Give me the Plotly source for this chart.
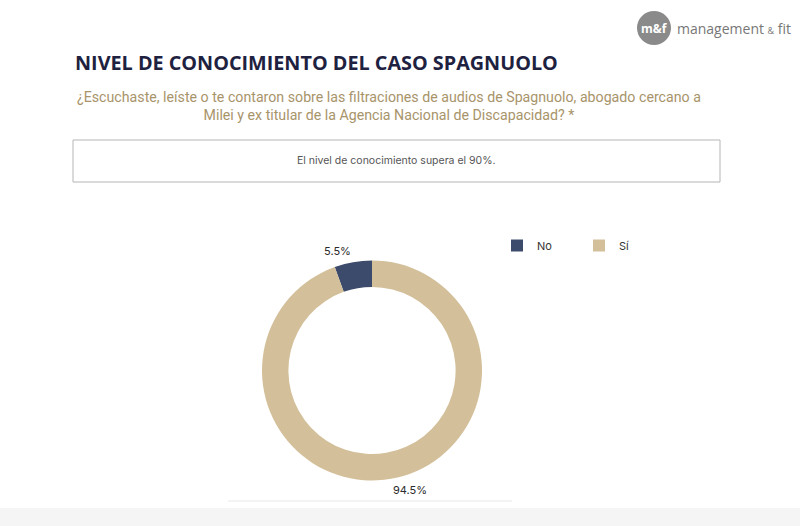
import math
import plotly.graph_objects as go

labels = ["No", "Sí"]
values = [5.5, 94.5]
colors = ["#3c4a6b", "#d3bf99"]

title = "NIVEL DE CONOCIMIENTO DEL CASO SPAGNUOLO"
subtitle = ("¿Escuchaste, leíste o te contaron sobre las filtraciones de audios de Spagnuolo, abogado cercano a<br>"
            "Milei y ex titular de la Agencia Nacional de Discapacidad? *")
note = "El nivel de conocimiento supera el 90%."

W, H = 800, 526
cx, cy, R = 372, 370.5, 110
total = sum(values)

fig = go.Figure(go.Pie(
    labels=labels, values=values, marker=dict(colors=colors, line=dict(width=0)),
    hole=0.76, sort=False, direction="clockwise", rotation=-values[0] / total * 360,
    textinfo="none", hoverinfo="label+percent",
    domain=dict(x=[(cx - R) / W, (cx + R) / W], y=[(H - cy - R) / H, (H - cy + R) / H]),
))

annotations = []
shapes = []

# outside value labels computed from data (slices run anticlockwise from 12 o'clock)
cum = 0
for v in values:
    mid = (cum + v / 2) / total * 2 * math.pi
    cum += v
    px = cx - math.sin(mid) * (R + 2)
    py = cy - math.cos(mid) * (R + 2)
    annotations.append(dict(
        x=px / W, y=1 - py / H, xref="paper", yref="paper", showarrow=False,
        text=f"{v:.1f}%", font=dict(family="Inter", size=11, color="#2a2a2a"),
        xanchor="right" if math.sin(mid) > 0 else "left",
        yanchor="bottom" if math.cos(mid) > 0 else "top",
    ))

annotations += [
    dict(x=73 / W, y=1 - 62 / H, xref="paper", yref="paper", showarrow=False, xanchor="left", yanchor="middle",
         text=f"<b>{title}</b>", font=dict(family="Open Sans", size=19.8, color="#1e2240")),
    dict(x=389 / W, y=1 - 105.5 / H, xref="paper", yref="paper", showarrow=False, xanchor="center", yanchor="middle",
         text=subtitle, font=dict(family="Roboto", size=14.2, color="#a8946a"), align="center"),
    dict(x=396 / W, y=1 - 160.5 / H, xref="paper", yref="paper", showarrow=False, xanchor="center", yanchor="middle",
         text=note, font=dict(family="Inter", size=10.5, color="#555555")),
    # logo
    dict(x=654 / W, y=1 - 28 / H, xref="paper", yref="paper", showarrow=False, xanchor="center", yanchor="middle",
         text="<b>m&f</b>", font=dict(family="Open Sans", size=12, color="#ffffff")),
    dict(x=675 / W, y=1 - 28 / H, xref="paper", yref="paper", showarrow=False, xanchor="left", yanchor="middle",
         text="management <span style='font-size:9px'>&</span> fit",
         font=dict(family="Open Sans", size=14, color="#777777")),
]

shapes += [
    dict(type="rect", xref="paper", yref="paper", x0=73 / W, x1=720 / W, y0=1 - 182 / H, y1=1 - 140 / H,
         line=dict(color="#b5b5b5", width=1)),
    dict(type="circle", xref="paper", yref="paper", x0=637 / W, x1=671 / W, y0=1 - 45 / H, y1=1 - 11 / H,
         fillcolor="#8a8a8a", line=dict(width=0)),
    dict(type="line", xref="paper", yref="paper", x0=228 / W, x1=512 / W, y0=1 - 501 / H, y1=1 - 501 / H,
         line=dict(color="#e8e8e8", width=1)),
    dict(type="rect", xref="paper", yref="paper", x0=0, x1=1, y0=0, y1=1 - 508 / H,
         fillcolor="#f5f5f5", line=dict(width=0), layer="below"),
]

fig.update_layout(
    width=W, height=H, margin=dict(l=0, r=0, t=0, b=0),
    paper_bgcolor="#ffffff", plot_bgcolor="#ffffff",
    showlegend=True,
    legend=dict(orientation="h", x=497 / W, y=1 - 231 / H, xanchor="left", yanchor="top",
                entrywidth=37, entrywidthmode="pixels",
                font=dict(family="Inter", size=11, color="#333333"), traceorder="normal"),
    annotations=annotations, shapes=shapes,
)

fig.write_html("out.html")
